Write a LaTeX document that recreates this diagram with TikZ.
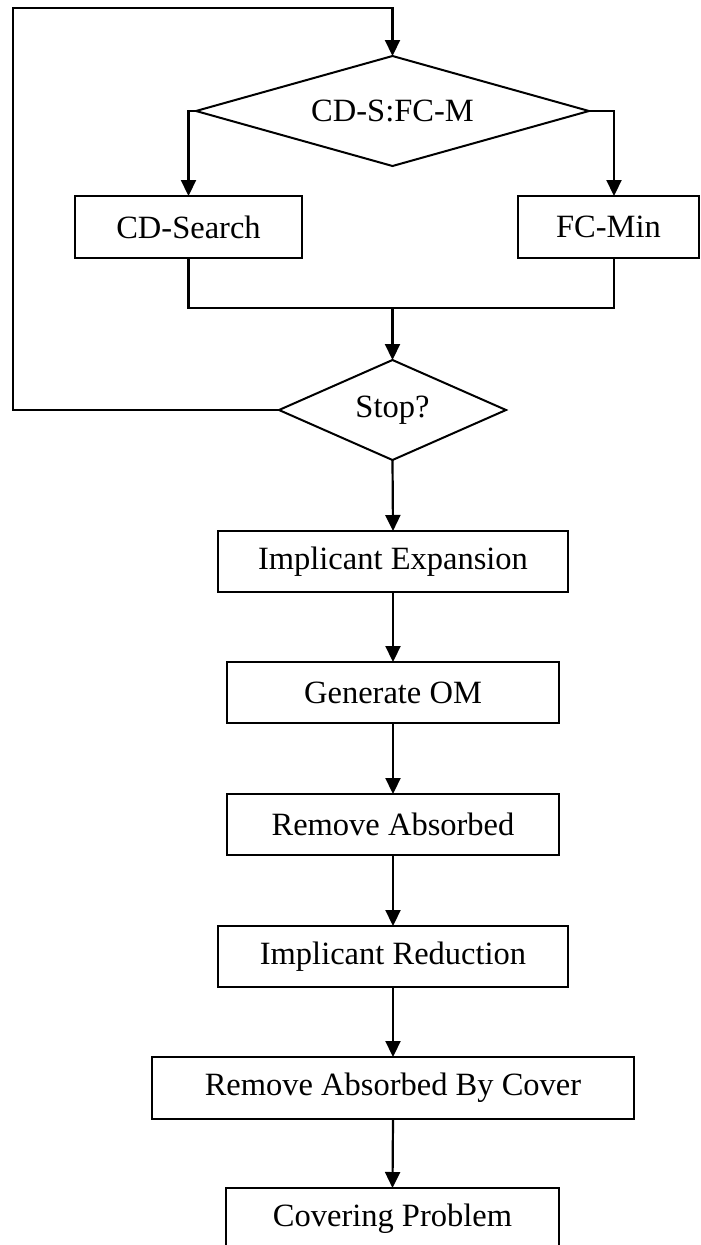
\documentclass[tikz,border=0pt]{standalone}
\usepackage{fontspec}
\setmainfont{Liberation Serif}
\usetikzlibrary{shapes.geometric,arrows.meta}
\begin{document}
\begin{tikzpicture}[x=1pt,y=-1pt,
  txt/.style={font=\fontsize{32.5}{38}\selectfont},
  box/.style={txt, draw, rectangle, line width=2pt, inner sep=0pt, outer sep=0pt},
  dec/.style={txt, draw, diamond, line width=2pt, inner sep=0pt, outer sep=0pt},
  ln/.style={line width=2.2pt},
  arr/.style={line width=2.2pt, -{Triangle[width=15pt,length=16pt]}}]
\useasboundingbox (0,0) rectangle (701,1245);
% decisions
\node[dec, aspect=3.57, minimum width=393pt, minimum height=110pt] (d1) at (392.5,111) {CD-S:FC-M};
\node[dec, aspect=2.27, minimum width=227pt, minimum height=100pt] (stop) at (392.5,410) {Stop?};
% boxes
\node[box, minimum width=227pt, minimum height=62pt] (cds) at (188.5,227) {CD-Search};
\node[box, minimum width=181pt, minimum height=62pt] (fcm) at (608.5,227) {FC-Min};
\node[box, minimum width=350pt, minimum height=61pt] (ie) at (393,561.5) {Implicant Expansion};
\node[box, minimum width=332pt, minimum height=61pt] (gom) at (393,692.5) {Generate OM};
\node[box, minimum width=332pt, minimum height=61pt] (ra) at (393,824.5) {Remove Absorbed};
\node[box, minimum width=350pt, minimum height=61pt] (ir) at (393,956.5) {Implicant Reduction};
\node[box, minimum width=482pt, minimum height=62pt] (rabc) at (393,1088) {Remove Absorbed By Cover};
\node[box, minimum width=333pt, minimum height=62pt] (cp) at (392.5,1219) {Covering Problem};
% helper coordinates
\coordinate (rbx) at (614,0);
\coordinate (mrg) at (392.5,308);
\coordinate (lx) at (13,8);
% branches from first decision
\draw[arr] (d1.west) -- (cds.north |- d1.west) -- (cds.north);
\draw[arr] (d1.east) -- (rbx |- d1.east) -- (rbx |- fcm.north);
% merge
\draw[ln] (cds.south) -- (cds.south |- mrg) -- (rbx |- mrg) -- (rbx |- fcm.south);
\draw[arr] (mrg) -- (stop.north);
% loop back
\draw[arr] (stop.west) -- (stop.west -| lx) -- (lx) -- (lx -| d1.north) -- (d1.north);
% chain
\draw[arr] (stop.south) -- (ie.north);
\draw[arr] (ie.south) -- (gom.north);
\draw[arr] (gom.south) -- (ra.north);
\draw[arr] (ra.south) -- (ir.north);
\draw[arr] (ir.south) -- (rabc.north);
\draw[arr] (rabc.south) -- (cp.north);
\end{tikzpicture}
\end{document}
